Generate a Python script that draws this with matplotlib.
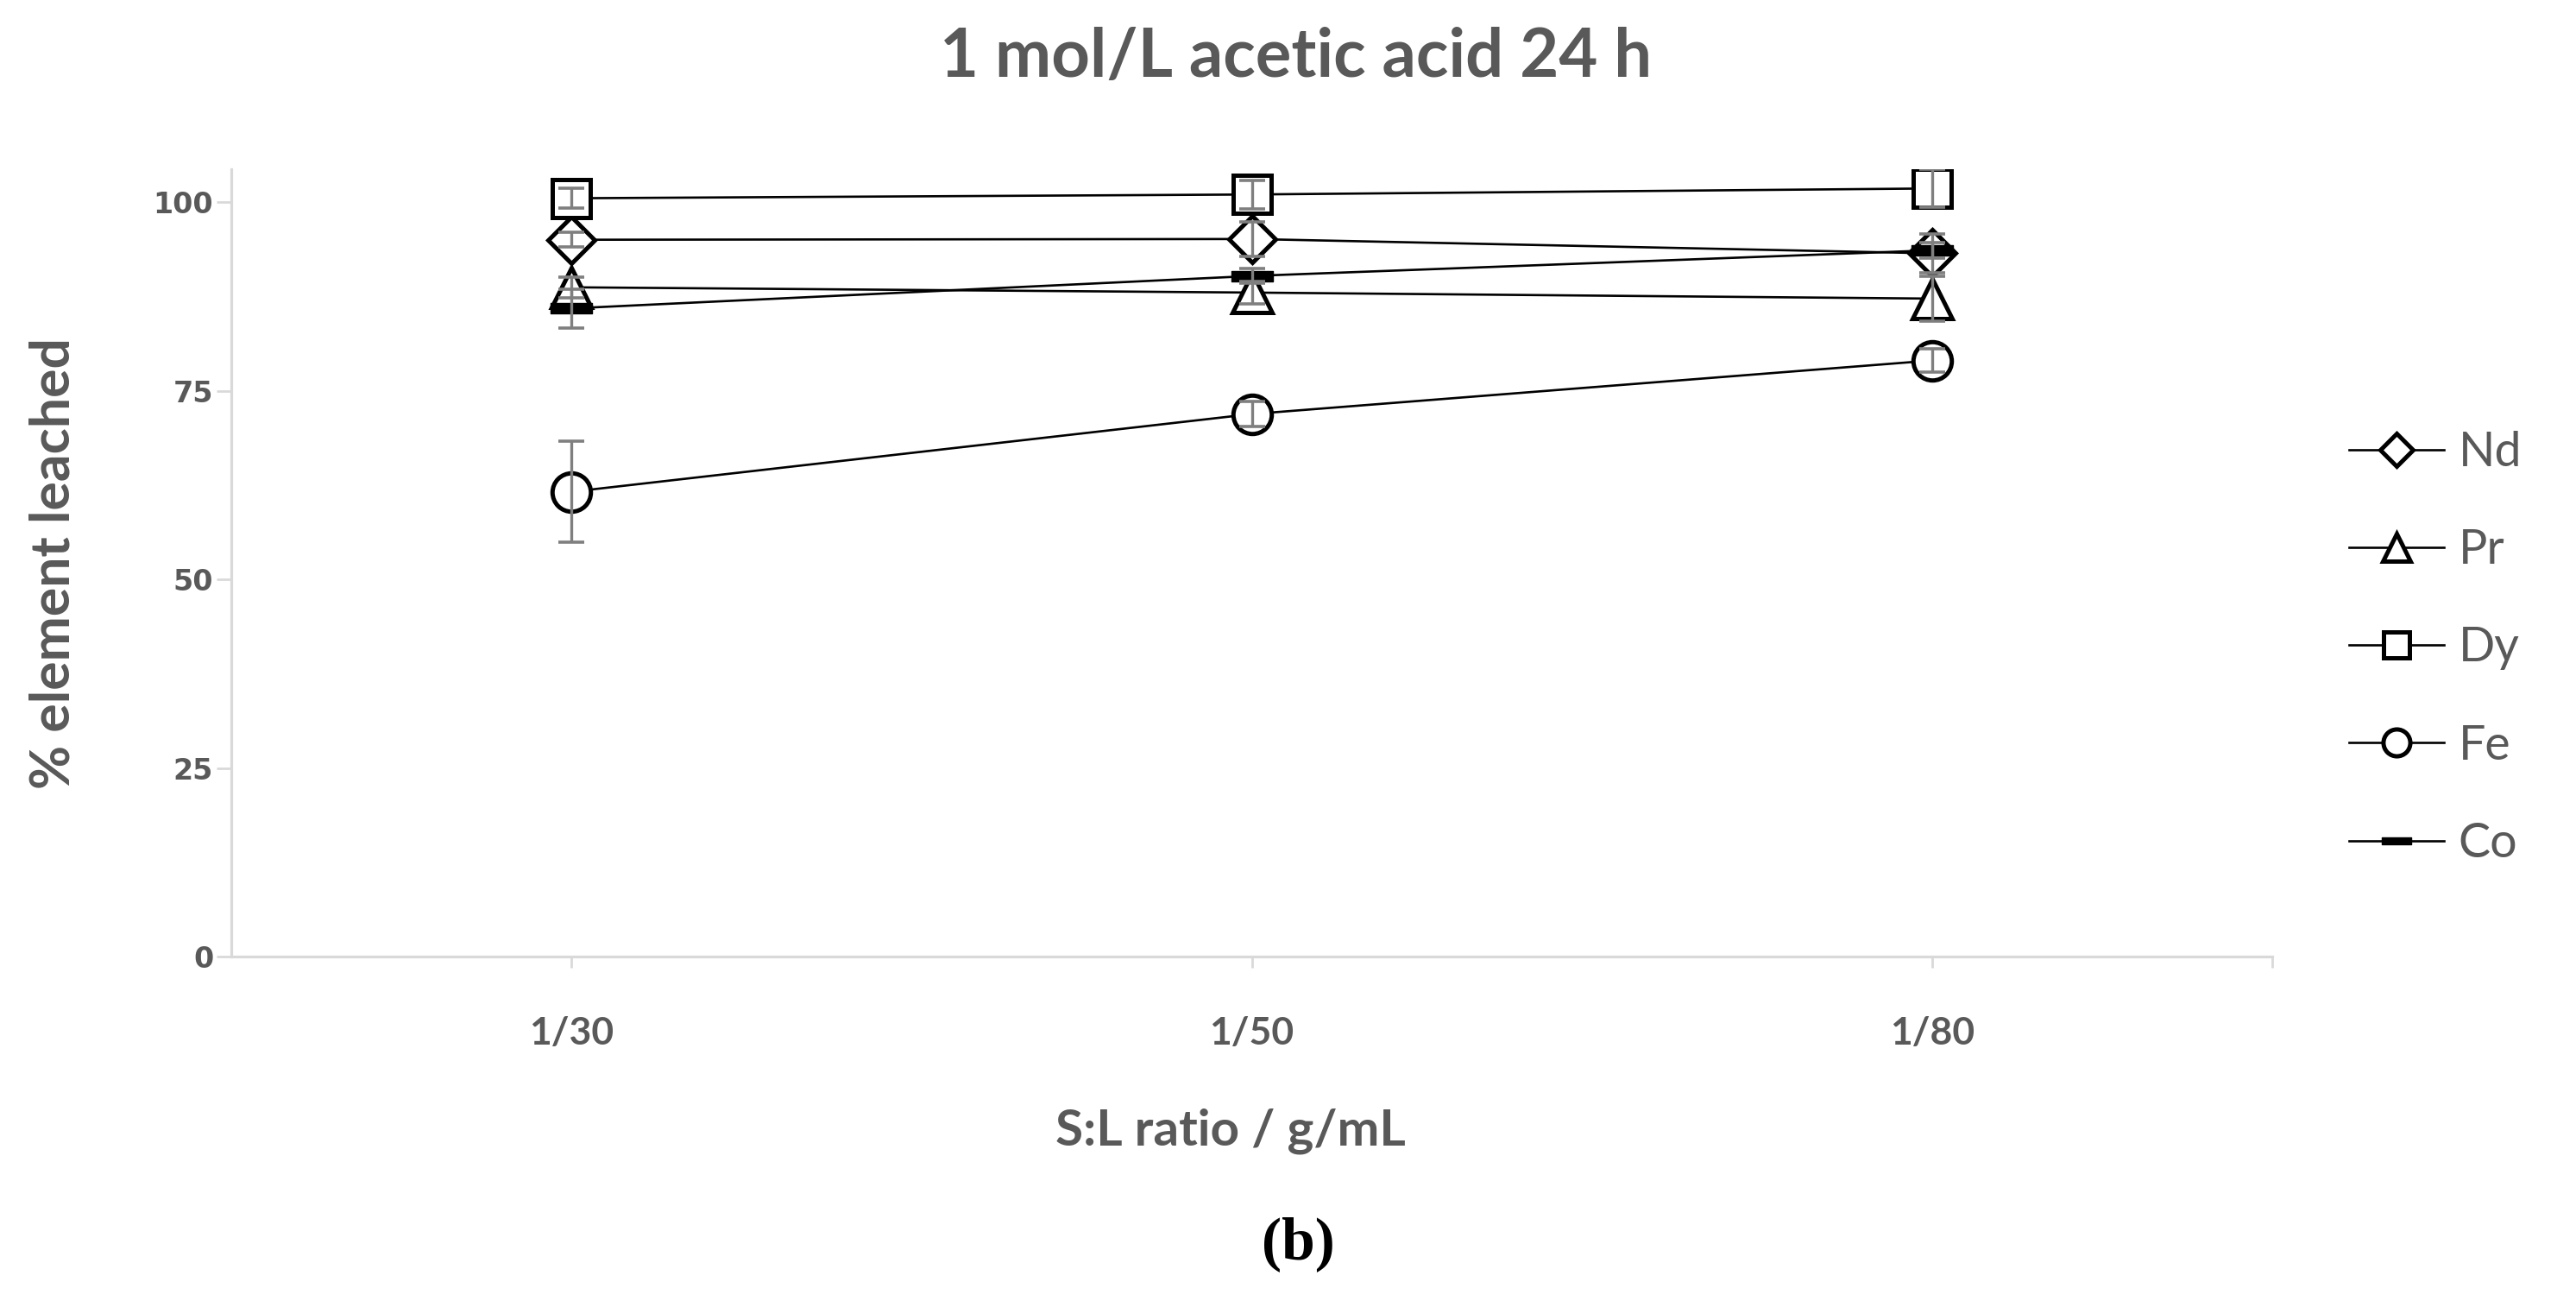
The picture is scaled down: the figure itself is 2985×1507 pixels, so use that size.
import numpy as np
import matplotlib
matplotlib.use("Agg")
import matplotlib.pyplot as plt
from matplotlib.path import Path

# data
ratios = ["1/30", "1/50", "1/80"]
elements = ["Nd", "Pr", "Dy", "Fe", "Co"]

nd = [95.0, 95.1, 93.2]
pr = [88.7, 88.0, 87.2]
dy = [100.5, 101.0, 101.8]
fe = [61.6, 71.9, 79.0]
co = [85.9, 90.2, 93.6]

nd_err = [1.0, 2.3, 2.6]
pr_err = [1.4, 1.5, 3.0]
dy_err = [1.3, 1.9, 2.5]
fe_err = [6.7, 1.7, 1.5]
co_err = [2.6, 1.0, 1.0]

yticks = [0, 25, 50, 75, 100]

grey_txt = "#595959"
axis_grey = "#d9d9d9"
err_grey = "#7f7f7f"

# flat bar marker for Co
co_marker = Path([(-1, -0.26), (1, -0.26), (1, 0.26), (-1, 0.26), (-1, -0.26)],
                 [Path.MOVETO, Path.LINETO, Path.LINETO, Path.LINETO, Path.CLOSEPOLY])

series = [
    ("Nd", nd, nd_err, "D", 28),
    ("Pr", pr, pr_err, "^", 33),
    ("Dy", dy, dy_err, "s", 31),
    ("Fe", fe, fe_err, "o", 32),
    ("Co", co, co_err, co_marker, 34),
]

fig = plt.figure(figsize=(29.85, 15.07), dpi=100)
ax = fig.add_axes([268 / 2985, 1 - 1108 / 1507, (2633 - 268) / 2985, (1108 - 196) / 1507])

x = np.arange(len(ratios))
handles = []
for name, vals, errs, mk, ms in series:
    if name == "Co":
        h, = ax.plot(x, vals, color="black", lw=1.9, marker=mk, ms=ms,
                     mfc="black", mec="black", mew=1.0, zorder=3, label=name)
    else:
        h, = ax.plot(x, vals, color="black", lw=1.9, marker=mk, ms=ms,
                     mfc="white", mec="black", mew=3.6, zorder=3, label=name)
    ax.errorbar(x, vals, yerr=errs, fmt="none", ecolor=err_grey, elinewidth=2.4,
                capsize=11, capthick=2.6, zorder=4)
    handles.append(h)

ax.set_xlim(-0.5, 2.5)
ax.set_ylim(0, 104.35)
ax.set_xticks(x)
ax.set_xticklabels(ratios)
ax.set_xticks([2.5], minor=True)
ax.set_yticks(yticks)

for s in ["top", "right"]:
    ax.spines[s].set_visible(False)
for s in ["left", "bottom"]:
    ax.spines[s].set_color(axis_grey)
    ax.spines[s].set_linewidth(2.3)

ax.tick_params(axis="y", direction="out", length=12, width=2.0, color=axis_grey,
               pad=3, labelcolor=grey_txt)
ax.tick_params(axis="x", which="both", direction="out", length=9, width=2.0,
               color=axis_grey, pad=41, labelcolor=grey_txt)
for lab in ax.get_yticklabels():
    lab.set_fontfamily("DejaVu Sans")
    lab.set_fontweight("bold")
    lab.set_fontsize(24)
for lab in ax.get_xticklabels():
    lab.set_fontfamily("Lato")
    lab.set_fontweight("bold")
    lab.set_fontsize(32)

fig.text(1502 / 2985, 1 - 67 / 1507, "1 mol/L acetic acid 24 h", ha="center", va="center",
         fontsize=56, fontweight="bold", color=grey_txt, family="Lato")
fig.text(63 / 2985, 1 - 653 / 1507, "% element leached", ha="center", va="center",
         rotation=90, fontsize=45, fontweight="bold", color=grey_txt, family="Lato")
fig.text(1426 / 2985, 1 - 1310 / 1507, "S:L ratio / g/mL", ha="center", va="center",
         fontsize=42, fontweight="bold", color=grey_txt, family="Lato")
fig.text(1504 / 2985, 1 - 1441 / 1507, "(b)", ha="center", va="center",
         fontsize=50, fontweight="bold", color="black", family="Liberation Serif")

leg = fig.legend(handles=handles, loc="center left",
                 bbox_to_anchor=(2672 / 2985, 1 - 751 / 1507),
                 frameon=False, markerscale=0.7,
                 handlelength=1.98, handletextpad=0.3, labelspacing=1.12,
                 prop={"family": "Lato", "size": 40})
for t in leg.get_texts():
    t.set_color(grey_txt)

fig.savefig("out.png", dpi=100)
